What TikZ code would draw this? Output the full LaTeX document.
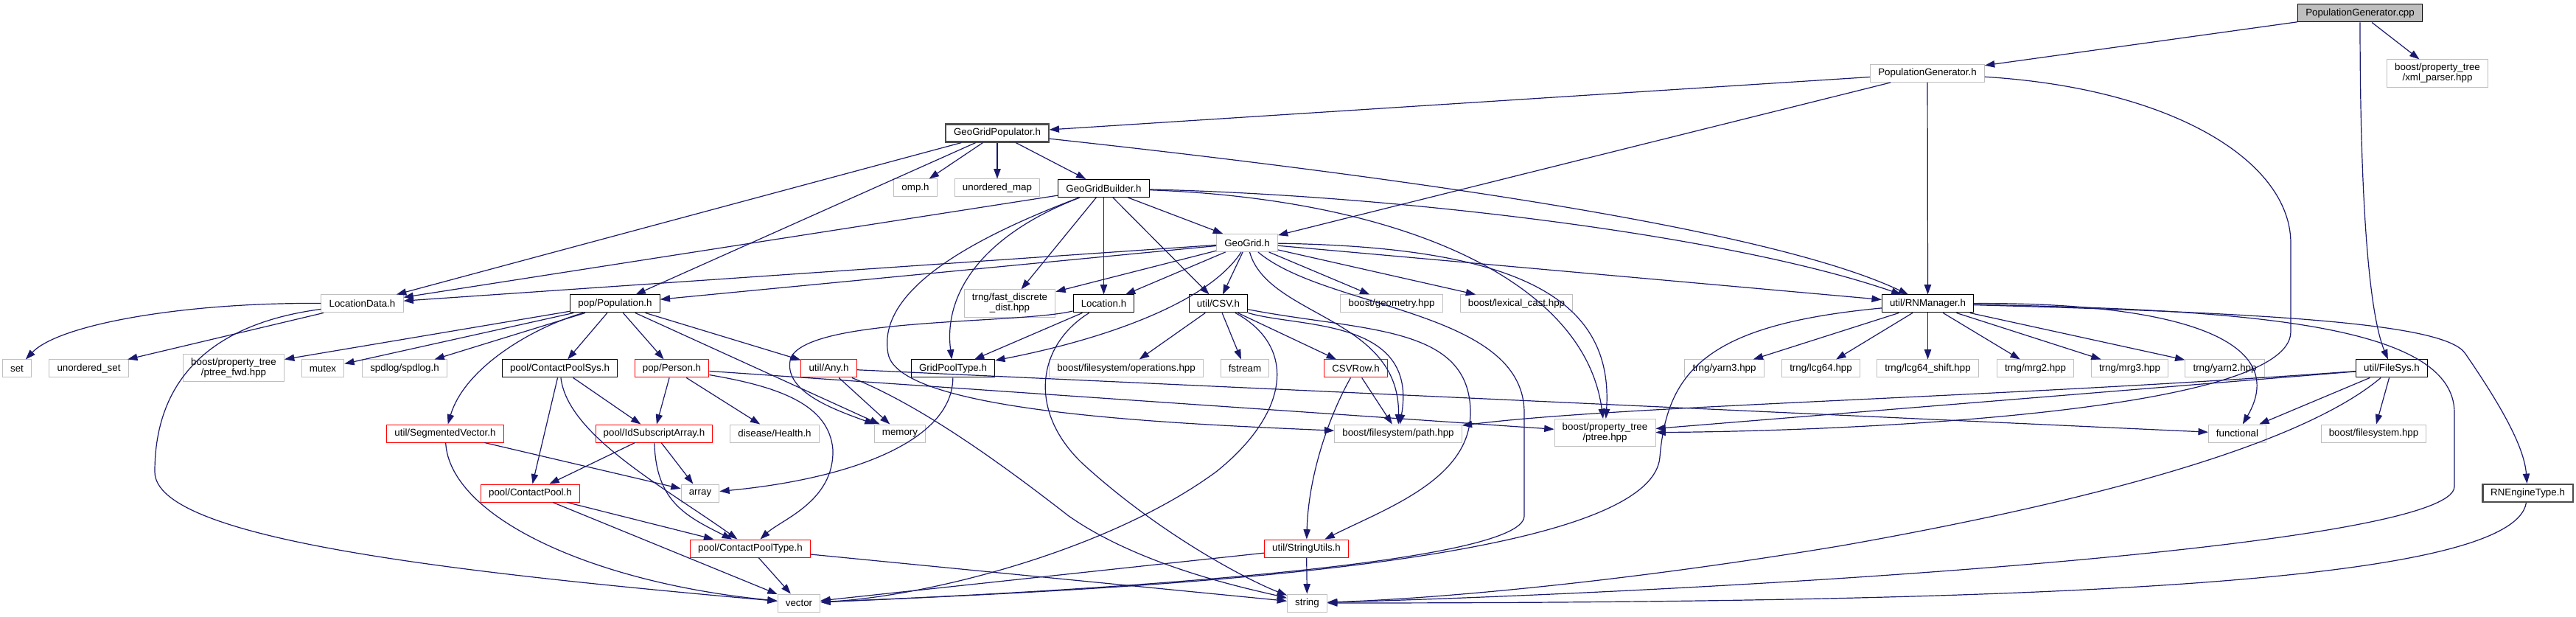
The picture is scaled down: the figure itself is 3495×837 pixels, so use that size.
\documentclass[tikz,border=0pt]{standalone}
\usepackage{fontspec}
\setmainfont{Liberation Sans}
\usetikzlibrary{arrows.meta}

\definecolor{edgeblue}{HTML}{191970}
\definecolor{boxgray}{HTML}{BFBFBF}
\definecolor{cutred}{HTML}{FF0000}

\tikzset{
  hdr/.style={draw=boxgray, line width=0.75pt, rectangle, inner xsep=8pt, inner ysep=4pt,
    minimum height=18pt, align=center, font=\fontsize{10}{10.5}\selectfont},
  dochdr/.style={hdr, draw=black},
  cuthdr/.style={hdr, draw=cutred},
  boldhdr/.style={hdr, draw=black!70, line width=1.6pt},
  rootfile/.style={hdr, draw=black, fill=boxgray},
  dep/.style={draw=edgeblue, line width=0.9pt, -{Triangle[length=10pt,width=7pt]}}
}

\begin{document}
\begin{tikzpicture}[x=0.75pt, y=-0.75pt]
\useasboundingbox (0,0) rectangle (3495,837);

% Top of the graph
\node[rootfile] (pgcpp) at (3202,18) {PopulationGenerator.cpp};
\node[hdr] (xmlp) at (3307,99.5) {boost/property\_tree\\/xml\_parser.hpp};
\node[hdr] (pgh) at (2615,99.5) {PopulationGenerator.h};
\node[boldhdr] (ggpop) at (1353,180.5) {GeoGridPopulator.h};
\node[hdr] (omp) at (1242,255) {omp.h};
\node[hdr] (umap) at (1353,255) {unordered\_map};
\node[dochdr] (ggbuild) at (1497.5,255.5) {GeoGridBuilder.h};
\node[hdr] (geogrid) at (1692,329.5) {GeoGrid.h};

% Second row
\node[hdr] (locdata) at (491.5,412) {LocationData.h};
\node[dochdr] (pop) at (834.5,412) {pop/Population.h};
\node[hdr] (fdd) at (1370,411.5) {trng/fast\_discrete\\\_dist.hpp};
\node[dochdr] (loc) at (1497.5,412) {Location.h};
\node[dochdr] (csv) at (1653,412) {util/CSV.h};
\node[hdr] (geom) at (1888,412) {boost/geometry.hpp};
\node[hdr] (lexcast) at (2057.5,412) {boost/lexical\_cast.hpp};
\node[dochdr] (rnman) at (2615.5,412) {util/RNManager.h};

% Third row
\node[hdr] (set) at (23,500) {set};
\node[hdr] (uset) at (120.5,500) {unordered\_set};
\node[hdr] (ptreefwd) at (317,499) {boost/property\_tree\\/ptree\_fwd.hpp};
\node[hdr] (mutex) at (438,500) {mutex};
\node[hdr] (spdlog) at (549,500) {spdlog/spdlog.h};
\node[dochdr] (cpsys) at (759.5,500) {pool/ContactPoolSys.h};
\node[cuthdr] (person) at (911.5,500) {pop/Person.h};
\node[cuthdr] (any) at (1124.5,500) {util/Any.h};
\node[dochdr] (gpt) at (1293,500) {GridPoolType.h};
\node[hdr] (fsops) at (1528,500) {boost/filesystem/operations.hpp};
\node[hdr] (fstream) at (1689,500) {fstream};
\node[cuthdr] (csvrow) at (1839.5,500) {CSVRow.h};
\node[hdr] (yarn3) at (2339.5,500) {trng/yarn3.hpp};
\node[hdr] (lcg64) at (2470.5,500) {trng/lcg64.hpp};
\node[hdr] (lcgshift) at (2615.5,500) {trng/lcg64\_shift.hpp};
\node[hdr] (mrg2) at (2761.5,500) {trng/mrg2.hpp};
\node[hdr] (mrg3) at (2889.5,500) {trng/mrg3.hpp};
\node[hdr] (yarn2) at (3018.5,500) {trng/yarn2.hpp};
\node[dochdr] (filesys) at (3245,500) {util/FileSys.h};

% Fourth row
\node[cuthdr] (segvec) at (604,588) {util/SegmentedVector.h};
\node[cuthdr] (idsub) at (887.5,588) {pool/IdSubscriptArray.h};
\node[hdr] (health) at (1051,588) {disease/Health.h};
\node[hdr] (mem) at (1221,588) {memory};
\node[hdr] (fspath) at (1897,588) {boost/filesystem/path.hpp};
\node[hdr] (ptree) at (2177.5,587) {boost/property\_tree\\/ptree.hpp};
\node[hdr] (func) at (3035.5,588) {functional};
\node[hdr] (fshpp) at (3220.5,588) {boost/filesystem.hpp};

% Bottom rows
\node[cuthdr] (cpool) at (719.5,669) {pool/ContactPool.h};
\node[hdr] (arr) at (950,669) {array};
\node[boldhdr] (rneng) at (3429.5,669) {RNEngineType.h};
\node[cuthdr] (cptype) at (1018,744) {pool/ContactPoolType.h};
\node[cuthdr] (strutil) at (1772.5,744) {util/StringUtils.h};
\node[hdr] (vec) at (1084,818) {vector};
\node[hdr] (str) at (1773.5,818) {string};

% Includes of the root file
\draw[dep] (pgcpp) -- (pgh);
\draw[dep] (pgcpp) -- (xmlp);
\draw[dep] (pgcpp) .. controls (3202,250) and (3212,420) .. (filesys);

% PopulationGenerator.h
\draw[dep] (pgh) -- (ggpop);
\draw[dep] (pgh) -- (geogrid);
\draw[dep] (pgh) -- (rnman);
\draw[dep] (pgh) .. controls (2950,120) and (3108,220) .. (3108,330) -- (3108,450)
  .. controls (3108,560) and (2500,585) .. (ptree);

% GeoGridPopulator.h
\draw[dep] (ggpop) -- (locdata);
\draw[dep] (ggpop) -- (pop);
\draw[dep] (ggpop) -- (omp);
\draw[dep] (ggpop) -- (umap);
\draw[dep] (ggpop) -- (ggbuild);
\draw[dep] (ggpop) .. controls (1900,240) and (2400,310) .. (rnman);

% GeoGridBuilder.h
\draw[dep] (ggbuild) -- (locdata);
\draw[dep] (ggbuild) .. controls (1330,320) and (1280,400) .. (gpt);
\draw[dep] (ggbuild) -- (fdd);
\draw[dep] (ggbuild) -- (loc);
\draw[dep] (ggbuild) -- (csv);
\draw[dep] (ggbuild) -- (geogrid);
\draw[dep] (ggbuild) .. controls (1300,330) and (1190,400) .. (1205,480)
  .. controls (1220,560) and (1600,575) .. (fspath);
\draw[dep] (ggbuild) .. controls (1900,265) and (2350,320) .. (rnman);
\draw[dep] (ggbuild) .. controls (1900,270) and (2150,380) .. (ptree);

% GeoGrid.h
\draw[dep] (geogrid) -- (locdata);
\draw[dep] (geogrid) -- (pop);
\draw[dep] (geogrid) -- (fdd);
\draw[dep] (geogrid) -- (loc);
\draw[dep] (geogrid) .. controls (1640,410) and (1500,460) .. (gpt);
\draw[dep] (geogrid) -- (csv);
\draw[dep] (geogrid) -- (geom);
\draw[dep] (geogrid) -- (lexcast);
\draw[dep] (geogrid) -- (rnman);
\draw[dep] (geogrid) .. controls (2050,335) and (2190,400) .. (ptree);
\draw[dep] (geogrid) .. controls (1720,430) and (1900,430) .. (fspath);
\draw[dep] (geogrid) .. controls (1800,420) and (2068,420) .. (2068,560) -- (2068,700)
  .. controls (2068,770) and (1400,805) .. (vec);

% LocationData.h
\draw[dep] (locdata) .. controls (250,410) and (80,440) .. (set);
\draw[dep] (locdata) -- (uset);
\draw[dep] (locdata) .. controls (280,440) and (210,520) .. (210,640)
  .. controls (210,730) and (600,775) .. (vec);

% pop/Population.h
\draw[dep] (pop) -- (ptreefwd);
\draw[dep] (pop) -- (mutex);
\draw[dep] (pop) -- (spdlog);
\draw[dep] (pop) -- (cpsys);
\draw[dep] (pop) -- (person);
\draw[dep] (pop) -- (any);
\draw[dep] (pop) -- (mem);
\draw[dep] (pop) .. controls (720,445) and (630,500) .. (segvec);

% Location.h
\draw[dep] (loc) -- (gpt);
\draw[dep] (loc) .. controls (1380,440) and (1100,430) .. (1073,485)
  .. controls (1060,530) and (1130,555) .. (mem);
\draw[dep] (loc) .. controls (1405,470) and (1395,560) .. (1470,630)
  .. controls (1580,730) and (1700,790) .. (str);

% util/CSV.h and CSVRow.h
\draw[dep] (csv) -- (fsops);
\draw[dep] (csv) -- (fstream);
\draw[dep] (csv) -- (csvrow);
\draw[dep] (csv) .. controls (1760,445) and (1925,430) .. (fspath);
\draw[dep] (csv) .. controls (1850,450) and (1995,440) .. (1995,560)
  .. controls (1995,650) and (1880,690) .. (strutil);
\draw[dep] (csv) .. controls (1760,470) and (1750,560) .. (1650,640)
  .. controls (1500,750) and (1250,810) .. (vec);
\draw[dep] (csvrow) -- (fspath);
\draw[dep] (csvrow) .. controls (1800,570) and (1775,650) .. (strutil);

% pool and pop headers
\draw[dep] (cpsys) -- (idsub);
\draw[dep] (cpsys) -- (cpool);
\draw[dep] (cpsys) .. controls (770,590) and (900,660) .. (cptype);
\draw[dep] (person) -- (idsub);
\draw[dep] (person) -- (health);
\draw[dep] (person) .. controls (1060,525) and (1125,550) .. (1130,610)
  .. controls (1132,680) and (1060,705) .. (cptype);
\draw[dep] (person) -- (ptree);
\draw[dep] (any) -- (mem);
\draw[dep] (any) -- (func);
\draw[dep] (any) .. controls (1250,550) and (1360,630) .. (1450,700)
  .. controls (1550,770) and (1700,800) .. (str);
\draw[dep] (gpt) .. controls (1292,600) and (1150,650) .. (arr);
\draw[dep] (segvec) -- (arr);
\draw[dep] (segvec) .. controls (610,700) and (800,790) .. (vec);
\draw[dep] (idsub) -- (cpool);
\draw[dep] (idsub) -- (arr);
\draw[dep] (idsub) .. controls (890,680) and (930,700) .. (cptype);
\draw[dep] (cpool) -- (cptype);
\draw[dep] (cpool) -- (vec);
\draw[dep] (cptype) -- (vec);
\draw[dep] (cptype) -- (str);
\draw[dep] (strutil) -- (vec);
\draw[dep] (strutil) -- (str);

% util/RNManager.h
\foreach \t in {yarn3,lcg64,lcgshift,mrg2,mrg3,yarn2}
  \draw[dep] (rnman) -- (\t);
\draw[dep] (rnman) .. controls (2950,410) and (3110,460) .. (func);
\draw[dep] (rnman) .. controls (3100,425) and (3320,440) .. (3345,480)
  .. controls (3400,560) and (3425,610) .. (rneng);
\draw[dep] (rnman) .. controls (3050,420) and (3330,440) .. (3330,560) -- (3330,660)
  .. controls (3330,740) and (2400,800) .. (str);
\draw[dep] (rnman) .. controls (2320,440) and (2262,500) .. (2252,620)
  .. controls (2240,770) and (1500,800) .. (vec);

% util/FileSys.h and RNEngineType.h
\draw[dep] (filesys) .. controls (2700,540) and (2200,550) .. (fspath);
\draw[dep] (filesys) -- (ptree);
\draw[dep] (filesys) -- (func);
\draw[dep] (filesys) -- (fshpp);
\draw[dep] (filesys) .. controls (3150,580) and (2950,660) .. (2500,740)
  .. controls (2200,790) and (1950,812) .. (str);
\draw[dep] (rneng) .. controls (3410,790) and (2800,818) .. (str);
\end{tikzpicture}
\end{document}
